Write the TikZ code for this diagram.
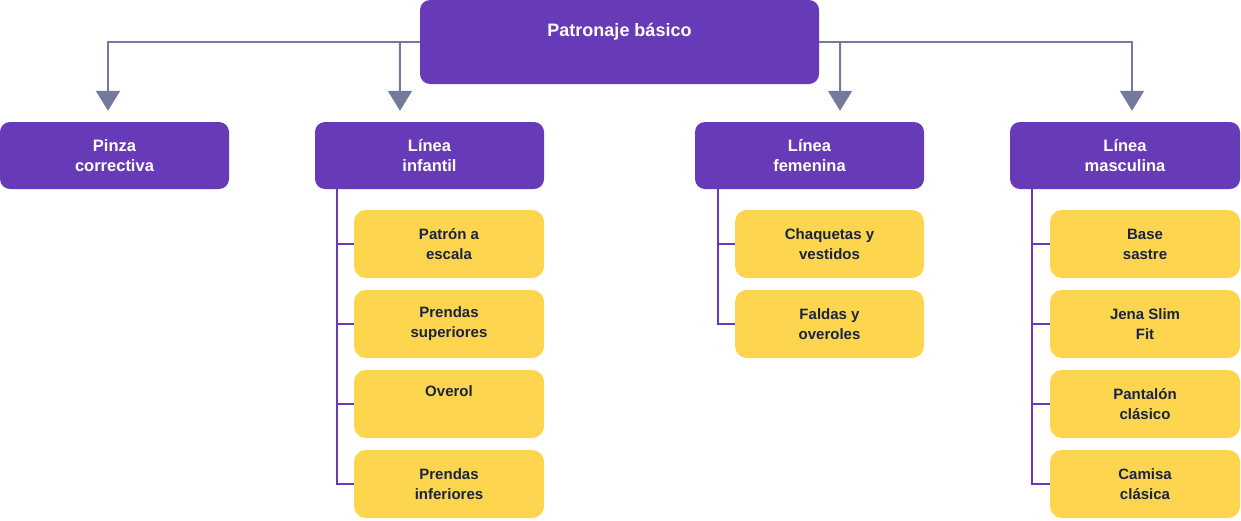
\documentclass[tikz,border=0pt]{standalone}
\usepackage{fontspec}
\setmainfont{Liberation Sans}
\usetikzlibrary{arrows.meta}
\definecolor{purp}{RGB}{103,58,183}
\definecolor{yel}{RGB}{253,213,79}
\definecolor{gry}{RGB}{116,122,153}
\definecolor{navy}{RGB}{26,36,64}
\begin{document}
\begin{tikzpicture}[x=1pt,y=-1pt,
  topbox/.style={fill=purp, rounded corners=10pt, minimum width=399pt, minimum height=84pt, inner sep=0pt, align=center, text=white, font=\fontsize{18}{19}\selectfont\bfseries},
  lvl/.style={fill=purp, rounded corners=10pt, minimum height=67pt, inner sep=0pt, align=center, text=white, font=\fontsize{16.5}{20}\selectfont\bfseries},
  leaf/.style={fill=yel, rounded corners=12pt, minimum height=68pt, inner sep=0pt, align=center, text=navy, font=\fontsize{15}{20}\selectfont\bfseries},
  arr/.style={draw=gry, line width=2pt, -{Triangle[width=24pt,length=20pt]}, color=gry},
  conn/.style={draw=purp, line width=2pt}]
\useasboundingbox (0,0) rectangle (1241,520);
% top
\node[topbox] (top) at (619.5,42) {Patronaje básico\\\strut};
% level 2
\node[lvl, minimum width=229pt] (pinza) at (114.5,155.5) {Pinza\\correctiva};
\node[lvl, minimum width=229pt] (inf) at (429.5,155.5) {Línea\\infantil};
\node[lvl, minimum width=229pt] (fem) at (809.5,155.5) {Línea\\femenina};
\node[lvl, minimum width=230pt] (masc) at (1125,155.5) {Línea\\masculina};
% arrows
\draw[arr] (top.west) -| ([xshift=-6.5pt,yshift=11pt]pinza.north);
\draw[arr] ([xshift=-20pt]top.west) -- ([xshift=-29.5pt,yshift=11pt]inf.north);
\draw[arr] (top.east) -| ([xshift=7pt,yshift=11pt]masc.north);
\draw[arr] ([xshift=21pt]top.east) -- ([xshift=30.5pt,yshift=11pt]fem.north);
% infantil leaves
\node[leaf, minimum width=190pt] (i1) at (449,244) {Patrón a\\escala};
\node[leaf, minimum width=190pt] (i2) at (449,324) {Prendas\\superiores};
\node[leaf, minimum width=190pt] (i3) at (449,404) {Overol\\\strut};
\node[leaf, minimum width=190pt] (i4) at (449,484) {Prendas\\inferiores};
% femenina leaves
\node[leaf, minimum width=189pt] (f1) at (829.5,244) {Chaquetas y\\vestidos};
\node[leaf, minimum width=189pt] (f2) at (829.5,324) {Faldas y\\overoles};
% masculina leaves
\node[leaf, minimum width=190pt] (m1) at (1145,244) {Base\\sastre};
\node[leaf, minimum width=190pt] (m2) at (1145,324) {Jena Slim\\Fit};
\node[leaf, minimum width=190pt] (m3) at (1145,404) {Pantalón\\clásico};
\node[leaf, minimum width=190pt] (m4) at (1145,484) {Camisa\\clásica};
% connectors
\foreach \n in {i1,i2,i3,i4} \draw[conn] ([xshift=22pt]inf.south west) |- (\n.west);
\foreach \n in {f1,f2} \draw[conn] ([xshift=23pt]fem.south west) |- (\n.west);
\foreach \n in {m1,m2,m3,m4} \draw[conn] ([xshift=22pt]masc.south west) |- (\n.west);
\end{tikzpicture}
\end{document}
